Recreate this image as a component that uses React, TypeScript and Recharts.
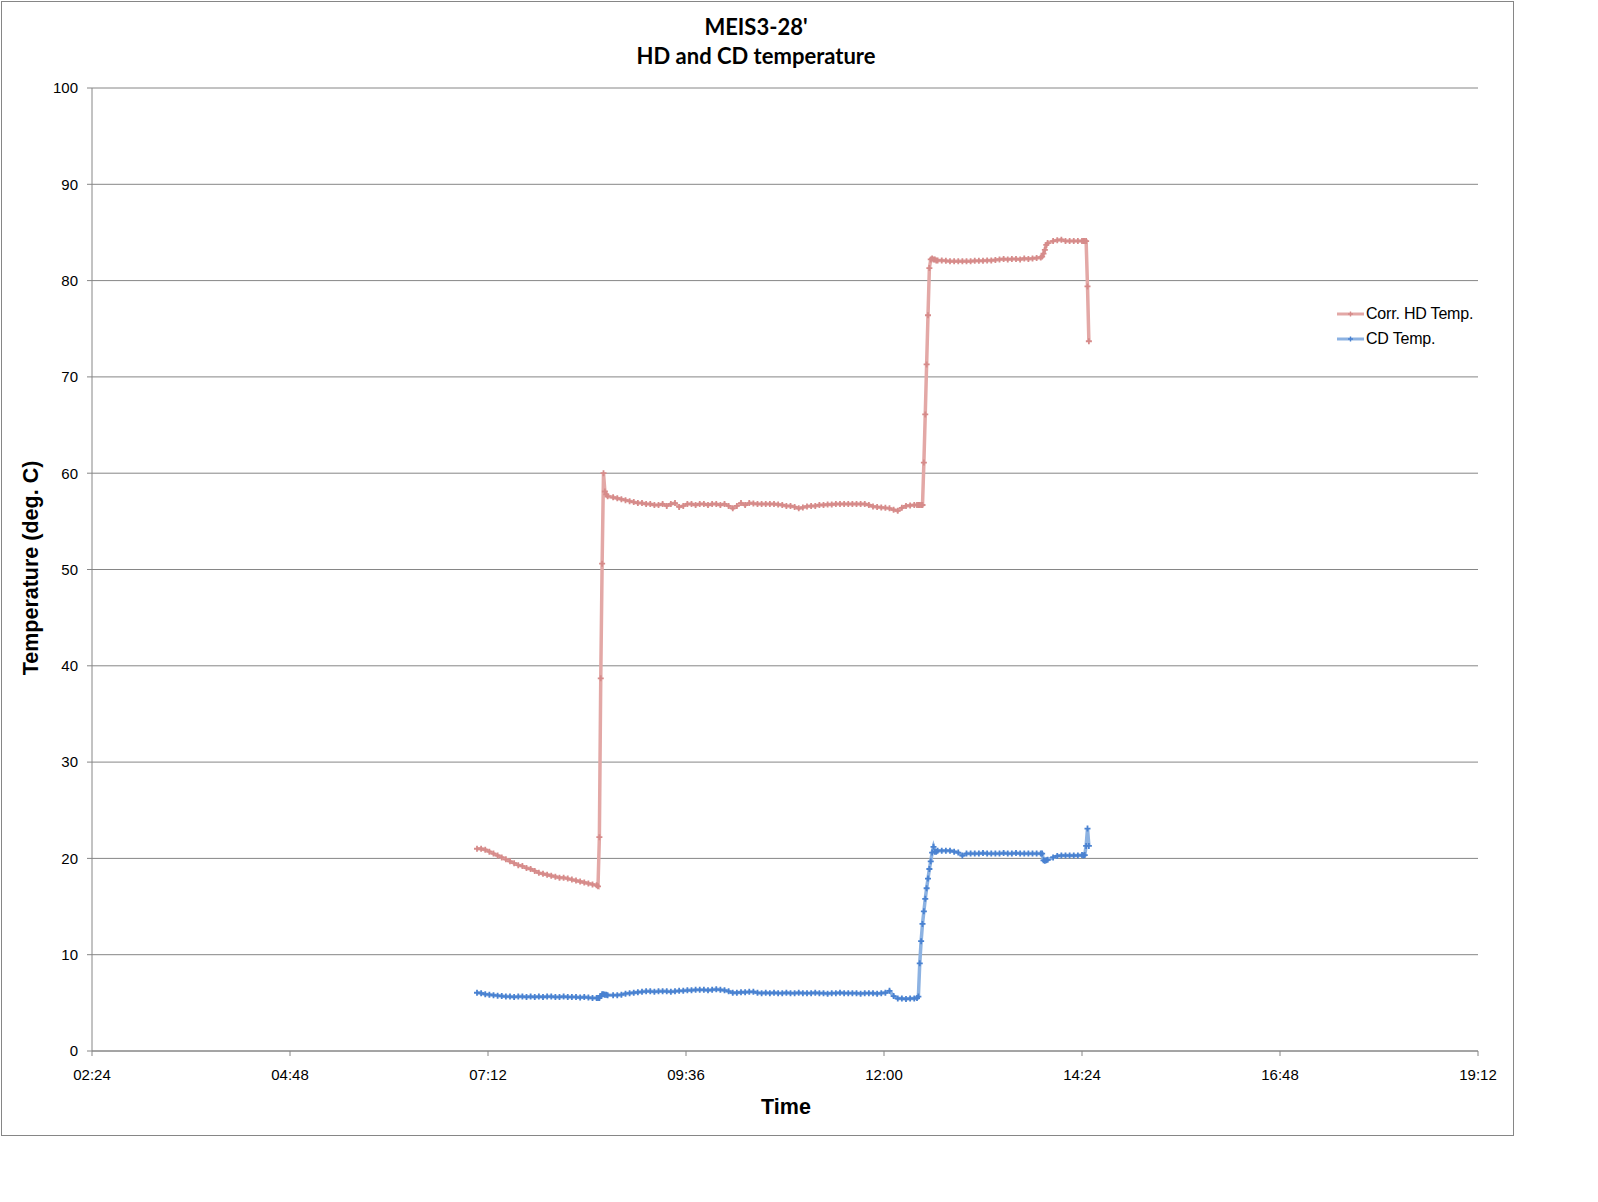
import { CartesianGrid, Line, LineChart, XAxis, YAxis } from 'recharts'

// minutes after midnight for each logged sample.
// the logger wrote every minute; the steady stretches are kept at every 3rd sample
const sampleMinutes = [
  424, 427, 430, 433, 436, 439, 442, 445, 448, 451, 454, 457, 460, 463, 466, 469, 472, 475, 478, 481,
  484, 487, 490, 493, 496, 499, 502, 505, 508, 511,
  512, 513, 514, 515, 516, 517, 518, 519,
  523, 526, 529, 532, 535, 538, 541, 544, 547, 550,
  553, 556, 559, 562, 565, 568, 571, 574, 577, 580,
  583, 586, 589, 592, 595, 598, 601, 604, 607, 610,
  613, 616, 619, 622, 625, 628, 631, 634, 637, 640,
  643, 646, 649, 652, 655, 658, 661, 664, 667, 670,
  673, 676, 679, 682, 685, 688, 691, 694, 697, 700,
  703, 706, 709, 712, 715, 718, 721, 724, 727, 730,
  733, 736, 739, 742,
  744, 745, 746, 747, 748, 749, 750, 751, 752, 753, 754, 755, 756, 757, 758, 759,
  762, 765, 768, 771, 774, 777, 780, 783, 786, 789, 792, 795, 798, 801, 804, 807, 810, 813, 816, 819,
  822, 825, 828, 831, 834,
  835, 836, 837, 838, 839,
  843, 846, 849, 852, 855, 858, 861, 864,
  865, 866, 867, 868, 869,
]

// Corr. HD Temp. (deg. C)
const hdTemp = [
  21.0, 21.0, 20.9, 20.7, 20.5, 20.3, 20.1, 19.9, 19.7, 19.5, 19.3, 19.2, 19.0, 18.9, 18.7, 18.5, 18.4, 18.3, 18.2, 18.1,
  18.0, 18.0, 17.9, 17.8, 17.7, 17.6, 17.5, 17.4, 17.3, 17.2,
  17.1, 22.2, 38.7, 50.6, 60.0, 58.1, 57.8, 57.6,
  57.5, 57.4, 57.3, 57.2, 57.1, 57.0, 56.9, 56.9, 56.8, 56.8,
  56.7, 56.7, 56.8, 56.6, 56.8, 56.9, 56.5, 56.6, 56.8, 56.8,
  56.7, 56.8, 56.8, 56.7, 56.8, 56.8, 56.7, 56.8, 56.6, 56.35,
  56.6, 56.9, 56.7, 56.9, 56.85, 56.8, 56.8, 56.8, 56.8, 56.8,
  56.75, 56.7, 56.6, 56.6, 56.5, 56.35, 56.45, 56.55, 56.6, 56.6,
  56.7, 56.7, 56.75, 56.75, 56.8, 56.8, 56.8, 56.8, 56.8, 56.8,
  56.8, 56.8, 56.7, 56.55, 56.5, 56.45, 56.4, 56.35, 56.2, 56.1,
  56.4, 56.6, 56.65, 56.7,
  56.7, 56.7, 56.7, 56.7, 56.7, 61.1, 66.1, 71.3, 76.4, 81.3, 82.2, 82.3, 82.2, 82.2, 82.1, 82.1,
  82.1, 82.05, 82.0, 82.0, 82.0, 82.0, 82.0, 82.0, 82.05, 82.05, 82.05, 82.1, 82.1, 82.15, 82.2, 82.25, 82.2, 82.25, 82.25, 82.2,
  82.3, 82.25, 82.3, 82.35, 82.4,
  82.5, 82.8, 83.2, 83.7, 83.9,
  84.1, 84.2, 84.25, 84.1, 84.1, 84.1, 84.1, 84.1,
  84.1, 84.1, 84.1, 79.4, 73.7,
]

// CD Temp. (deg. C)
const cdTemp = [
  6.05, 6.0, 5.9, 5.85, 5.8, 5.75, 5.7, 5.65, 5.65, 5.6, 5.65, 5.65, 5.6, 5.65, 5.6, 5.65, 5.6, 5.65, 5.65, 5.6,
  5.6, 5.65, 5.6, 5.6, 5.6, 5.55, 5.6, 5.55, 5.5, 5.5,
  5.5, 5.5, 5.7, 5.9, 5.9, 5.85, 5.85, 5.8,
  5.8, 5.8, 5.85, 5.95, 6.0, 6.05, 6.1, 6.15, 6.2, 6.2,
  6.15, 6.2, 6.2, 6.2, 6.15, 6.2, 6.25, 6.25, 6.3, 6.3,
  6.35, 6.35, 6.35, 6.3, 6.35, 6.4, 6.35, 6.3, 6.2, 6.05,
  6.05, 6.1, 6.1, 6.15, 6.15, 6.05, 6.0, 6.05, 6.0, 6.05,
  6.0, 6.0, 6.05, 6.0, 6.0, 6.05, 6.0, 6.0, 6.0, 6.05,
  6.0, 6.0, 5.95, 6.0, 6.0, 6.05, 6.0, 6.0, 6.0, 6.0,
  5.95, 6.0, 6.0, 6.0, 5.95, 6.0, 6.05, 6.25, 5.7, 5.45,
  5.45, 5.4, 5.45, 5.45,
  5.5, 5.65, 9.1, 11.4, 13.2, 14.5, 15.8, 16.9, 17.9, 18.9, 19.7, 20.6, 21.2, 20.7, 20.7, 20.8,
  20.8, 20.8, 20.8, 20.7, 20.6, 20.3, 20.5, 20.5, 20.5, 20.5, 20.55, 20.5, 20.5, 20.5, 20.5, 20.55, 20.5, 20.5, 20.55, 20.5,
  20.5, 20.5, 20.5, 20.5, 20.5,
  20.5, 19.8, 19.75, 19.8, 19.85,
  20.1, 20.25, 20.3, 20.3, 20.3, 20.3, 20.3, 20.35,
  20.3, 20.35, 21.3, 23.1, 21.3,
]

const timeTicks = [144, 288, 432, 576, 720, 864, 1008, 1152]
const tempTicks = [0, 10, 20, 30, 40, 50, 60, 70, 80, 90, 100]

const rows = sampleMinutes.map((t, i) => ({ t, hd: hdTemp[i], cd: cdTemp[i] }))

const GREY = '#868686'
const AXIS_FONT = '"Liberation Sans", Arial, sans-serif'

const SERIES = [
  { key: 'hd', name: 'Corr. HD Temp.', line: '#e3a8a6', mark: '#d68b8a' },
  { key: 'cd', name: 'CD Temp.', line: '#8cb2e2', mark: '#4a82d1' },
]

function hhmm(m: number) {
  const h = Math.floor(m / 60)
  const mm = Math.round(m % 60)
  return `${String(h).padStart(2, '0')}:${String(mm).padStart(2, '0')}`
}

// excel style "+" marker
function plusDot(color: string) {
  return (props: any) => {
    const { cx, cy, index } = props
    if (cx == null || cy == null) return <g key={`d${index}`} />
    return (
      <path
        key={`d${index}`}
        d={`M${cx - 3},${cy}h6M${cx},${cy - 3}v6`}
        stroke={color}
        strokeWidth={1.8}
        fill="none"
      />
    )
  }
}

function SeriesLegend() {
  return (
    <div
      style={{
        position: 'absolute', left: 1337, top: 301,
        fontFamily: AXIS_FONT, fontSize: 16, color: '#000', letterSpacing: -0.2,
      }}
    >
      {SERIES.map((s) => (
        <div key={s.key} style={{ display: 'flex', alignItems: 'center', height: 25.5 }}>
          <svg width={28} height={10} style={{ marginRight: 1, flex: 'none' }}>
            <line x1={0} y1={5} x2={27} y2={5} stroke={s.line} strokeWidth={3} />
            <path d="M11,5h5M13.5,2.5v5" stroke={s.mark} strokeWidth={1.4} />
          </svg>
          <span style={{ whiteSpace: 'nowrap' }}>{s.name}</span>
        </div>
      ))}
    </div>
  )
}

export default function App() {
  return (
    <div style={{ position: 'absolute', left: 0, top: 0, width: 1598, height: 1202, background: '#fff' }}>
      <div
        style={{
          position: 'absolute', left: 1, top: 1, width: 1511, height: 1133,
          border: `1px solid ${GREY}`,
        }}
      />
      <div
        style={{
          position: 'absolute', left: 756, top: 12, transform: 'translateX(-50%)', textAlign: 'center',
          whiteSpace: 'nowrap', fontFamily: 'Lato, "Open Sans", sans-serif', fontWeight: 700,
          fontSize: 22, lineHeight: '29px', color: '#000',
        }}
      >
        <div>MEIS3-28'</div>
        <div>HD and CD temperature</div>
      </div>
      <div
        style={{
          position: 'absolute', left: 31, top: 568, transform: 'translate(-50%, -50%) rotate(-90deg)',
          whiteSpace: 'nowrap', fontFamily: AXIS_FONT, fontWeight: 700, fontSize: 21.5, color: '#000',
        }}
      >
        Temperature (deg. C)
      </div>
      <div
        style={{
          position: 'absolute', left: 786, top: 1107, transform: 'translate(-50%, -50%)',
          whiteSpace: 'nowrap', fontFamily: AXIS_FONT, fontWeight: 700, fontSize: 21.5, color: '#000',
        }}
      >
        Time
      </div>
      <LineChart
        width={1598}
        height={1202}
        data={rows}
        margin={{ top: 88, right: 120, bottom: 121, left: 32 }}
        style={{ position: 'absolute', left: 0, top: 0 }}
      >
        <CartesianGrid vertical={false} stroke={GREY} strokeWidth={1} />
        <XAxis
          dataKey="t"
          type="number"
          domain={[144, 1152]}
          ticks={timeTicks}
          interval={0}
          tickFormatter={hhmm}
          height={30}
          tickSize={5}
          tickMargin={13}
          stroke={GREY}
          tick={{ fill: '#000', fontSize: 15, fontFamily: AXIS_FONT }}
        />
        <YAxis
          type="number"
          domain={[0, 100]}
          ticks={tempTicks}
          interval={0}
          width={60}
          tickSize={5}
          tickMargin={9}
          stroke={GREY}
          tick={{ fill: '#000', fontSize: 15, fontFamily: AXIS_FONT }}
        />
        {SERIES.map((s) => (
          <Line
            key={s.key}
            name={s.name}
            dataKey={s.key}
            type="linear"
            stroke={s.line}
            strokeWidth={3.5}
            dot={plusDot(s.mark)}
            activeDot={false}
            isAnimationActive={false}
          />
        ))}
      </LineChart>
      <SeriesLegend />
    </div>
  )
}
